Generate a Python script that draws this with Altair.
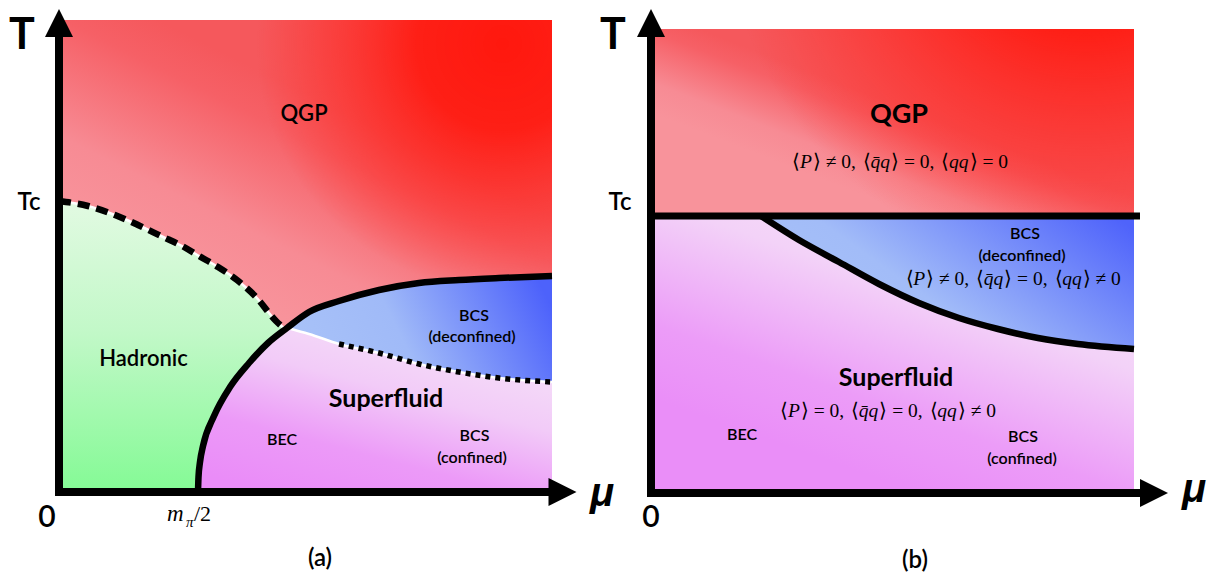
import altair as alt
import pandas as pd

SANS = "Lato"
MU_FONT = "Liberation Sans"
SERIF = "Liberation Serif"
H = 562
A_W, B_W = 600, 601
MID = 600  # medium weight for region labels
PX_PER_UNIT = 100.0

# ---------------- panel (a): phase boundaries in schematic units (mu, T) ----------------
A_MU_MAX, A_T_MAX = 4.93, 4.72
A_DASH_MU = [0.00, 0.29, 0.56, 0.79, 1.02, 1.25, 1.40, 1.59, 1.78, 1.97, 2.17, 2.26]
A_DASH_T = [2.91, 2.86, 2.77, 2.67, 2.56, 2.45, 2.36, 2.25, 2.12, 1.95, 1.71, 1.63]
A_SOLID_MU = [1.39, 1.395, 1.41, 1.44, 1.55, 1.71, 1.90, 2.09, 2.28, 2.50, 2.80, 3.20, 3.60, 4.00, 4.40, 4.93]
A_SOLID_T = [0.00, 0.15, 0.30, 0.46, 0.76, 1.05, 1.29, 1.49, 1.64, 1.80, 1.91, 2.02, 2.09, 2.12, 2.14, 2.16]
A_SEP_MU = [2.28, 2.50, 2.80, 3.20, 3.60, 4.00, 4.40, 4.93]
A_SEP_T = [1.64, 1.58, 1.48, 1.39, 1.28, 1.20, 1.14, 1.10]
A_DOT_START = 2.80

# ---------------- panel (b) ----------------
B_MU_MAX, B_T_MAX = 4.83, 4.64
B_TC = 2.77
B_TC_END = 4.89
B_CURVE_MU = [1.10, 1.48, 1.88, 2.28, 2.68, 3.08, 3.47, 3.87, 4.27, 4.83]
B_CURVE_T = [2.77, 2.53, 2.31, 2.09, 1.90, 1.75, 1.64, 1.55, 1.49, 1.44]

# ---------------- labels ----------------
A_LABELS = ["QGP", "Hadronic", "BEC", "BCS", "(deconfined)", "BCS", "(confined)"]
A_LABEL_MU = [2.45, 0.845, 2.23, 4.15, 4.13, 4.155, 4.13]
A_LABEL_T = [3.78, 1.33, 0.52, 1.76, 1.55, 0.56, 0.34]
A_LABEL_SIZE = [22, 22, 16, 16, 16, 16, 16]
A_BOLD = ["Superfluid"]
A_BOLD_MU = [3.27]
A_BOLD_T = [0.93]
A_BOLD_SIZE = [25]

B_LABELS = ["BEC", "BCS", "(deconfined)", "BCS", "(confined)"]
B_LABEL_MU = [0.91, 3.74, 3.71, 3.72, 3.71]
B_LABEL_T = [0.58, 2.59, 2.37, 0.56, 0.34]
B_LABEL_SIZE = [16, 16, 16, 16, 16]
B_BOLD = ["QGP", "Superfluid"]
B_BOLD_MU = [2.48, 2.45]
B_BOLD_T = [3.78, 1.15]
B_BOLD_SIZE = [27, 25]

# formulas: pieces in roman ("r") or italic ("i") type
B_FORMULA_PARTS = [
    [("⟨", "r"), ("P", "i"), ("⟩ ≠ 0,", "r"), ("⟨", "r"), ("q̄q", "i"), ("⟩ = 0,", "r"),
     ("⟨", "r"), ("qq", "i"), ("⟩ = 0", "r")],
    [("⟨", "r"), ("P", "i"), ("⟩ ≠ 0,", "r"), ("⟨", "r"), ("q̄q", "i"), ("⟩ = 0,", "r"),
     ("⟨", "r"), ("qq", "i"), ("⟩ ≠ 0", "r")],
    [("⟨", "r"), ("P", "i"), ("⟩ = 0,", "r"), ("⟨", "r"), ("q̄q", "i"), ("⟩ = 0,", "r"),
     ("⟨", "r"), ("qq", "i"), ("⟩ ≠ 0", "r")],
]
B_FORMULA_MU = [2.49, 3.62, 2.37]
B_FORMULA_T = [3.31, 2.14, 0.82]
FORMULA_SIZE = 19.5

AX_T_POS = (-0.37, 4.56)
AX_TC_POS = (-0.30, 2.89)
AX_ZERO_POS = (-0.12, -0.26)
AX_MU_POS = (5.31, -0.14)
A_TAG_POS = (2.61, -0.67)
B_TAG_POS = (2.64, -0.68)
B_ZERO_POS = (0.0, -0.25)
B_TC_POS = (-0.31, 2.90)
B_T_POS = (-0.38, 4.57)
B_MU_POS = (5.31, -0.09)

# approximate advance widths (em) of the serif glyphs, used to lay formula pieces side by side
GLYPH_EM = {"⟨": 0.39, "⟩": 0.39, " ": 0.25, "≠": 0.549, "=": 0.564, "0": 0.5,
            ",": 0.25, "P": 0.611, "q": 0.5, "\u0304": 0.0}


def formula_rows(parts, center_mu, t, size):
    rows, x = [], 0.0
    for text, style in parts:
        rows.append({"label": text, "x": x, "style": style})
        w = sum(GLYPH_EM.get(ch, 0.5) for ch in text) * size
        if style == "i":
            w += 0.05 * size
        x += w
        if text.endswith(","):
            x += 0.38 * size
    start = center_mu - x / 2 / PX_PER_UNIT
    for r in rows:
        r["mu"] = start + r["x"] / PX_PER_UNIT
        r["T"] = t
        r["size"] = size
    return rows


def make_scales(mu_dom, t_dom):
    xs = alt.Scale(domain=mu_dom, nice=False, zero=False)
    ys = alt.Scale(domain=t_dom, nice=False, zero=False)

    def X(f):
        return alt.X(f, type="quantitative", scale=xs, axis=None)

    def Y(f):
        return alt.Y(f, type="quantitative", scale=ys, axis=None)

    return X, Y


def grad(x1, y1, x2, y2, stops):
    return alt.LinearGradient(
        gradient="linear", x1=x1, y1=y1, x2=x2, y2=y2,
        stops=[alt.GradientStop(offset=o, color=c) for o, c in stops])


def rgrad(cx, cy, r, stops):
    return alt.RadialGradient(
        gradient="radial", x1=cx, y1=cy, r1=0, x2=cx, y2=cy, r2=r,
        stops=[alt.GradientStop(offset=o, color=c) for o, c in stops])


def area(df, fill, X, Y):
    return alt.Chart(df).mark_area(fill=fill, interpolate="monotone", strokeWidth=0).encode(
        x=X("mu"), y=Y("top"), y2=alt.Y2("bot"))


def curve(df, X, Y, **kw):
    return alt.Chart(df).mark_line(interpolate="monotone", **kw).encode(x=X("mu"), y=Y("T"))


def text_df(df, X, Y, **kw):
    return alt.Chart(df).mark_text(**kw).encode(
        x=X("mu"), y=Y("T"), text="label:N",
        size=alt.Size("size:Q", scale=None, legend=None))


def texts(labels, mus, ts, sizes, X, Y, **kw):
    df = pd.DataFrame({"label": labels, "mu": mus, "T": ts, "size": sizes})
    return text_df(df, X, Y, **kw)


def axes(X, Y, y_top, x_right, arrow_t, arrow_mu):
    v = pd.DataFrame({"mu": [0.0], "T0": [-0.04], "T1": [y_top]})
    h = pd.DataFrame({"m0": [-0.04], "m1": [x_right], "T": [0.0]})
    rv = alt.Chart(v).mark_rule(strokeWidth=8, color="black").encode(
        x=X("mu"), y=Y("T0"), y2=alt.Y2("T1"))
    rh = alt.Chart(h).mark_rule(strokeWidth=8, color="black").encode(
        x=X("m0"), x2=alt.X2("m1"), y=Y("T"))
    up = alt.Chart(pd.DataFrame({"mu": [0.0], "T": [arrow_t]})).mark_point(
        shape="M-1,1L0,-1L1,1Z", size=784, filled=True, color="black", opacity=1,
        strokeWidth=0).encode(x=X("mu"), y=Y("T"))
    rt = alt.Chart(pd.DataFrame({"mu": [arrow_mu], "T": [0.0]})).mark_point(
        shape="M-1,-1L1,0L-1,1Z", size=784, filled=True, color="black", opacity=1,
        strokeWidth=0).encode(x=X("mu"), y=Y("T"))
    return [rv, rh, up, rt]


QGP_BASE = [(0, "#f8939b"), (0.3, "#f78b94"), (0.8, "#f66066"), (1, "#f5585c")]
RED_BLOB = [(0, "rgba(255,24,14,1)"), (0.35, "rgba(255,26,16,0.92)"),
            (0.7, "rgba(255,36,28,0.45)"), (1, "rgba(255,40,30,0)")]

# ---------------- panel (a) ----------------
XA, YA = make_scales([-0.51, 5.49], [-0.82, 4.80])

qgp_a = pd.DataFrame({"mu": [0.0, A_MU_MAX], "top": [A_T_MAX, A_T_MAX], "bot": [0.0, 0.0]})
green_a = pd.DataFrame({"mu": A_DASH_MU, "top": A_DASH_T, "bot": 0.0})
purple_a = pd.DataFrame({"mu": A_SOLID_MU, "top": A_SOLID_T, "bot": 0.0})
solid_grid = [t for m, t in zip(A_SOLID_MU, A_SOLID_T) if m >= A_SEP_MU[0]]
blue_a = pd.DataFrame({"mu": A_SEP_MU, "top": solid_grid, "bot": A_SEP_T})
dash_a = pd.DataFrame({"mu": A_DASH_MU, "T": A_DASH_T})
solid_a = pd.DataFrame({"mu": A_SOLID_MU, "T": A_SOLID_T})
sep_a = pd.DataFrame({"mu": A_SEP_MU, "T": A_SEP_T})
dot_a = sep_a[sep_a["mu"] >= A_DOT_START]

layers_a = [
    area(qgp_a, grad(0.2, 0.5, 0.405, 0.106, QGP_BASE), XA, YA),
    area(qgp_a, rgrad(0.9, 0.07, 0.5, RED_BLOB), XA, YA),
    area(green_a, grad(0, 0, 0, 1, [(0, "#e2fae2"), (0.45, "#c2f8c8"), (1, "#84fa95")]), XA, YA),
    area(purple_a, grad(0.2, 1.0, 0.5, 0.3, [(0, "#ea8cf8"), (0.35, "#ec9af8"),
                                             (0.75, "#f2cbf8"), (1, "#f4d8f8")]), XA, YA),
    area(blue_a, grad(0, 0.5, 1, 0.3, [(0, "#a8c2f8"), (0.4, "#a0baf8"), (1, "#4d62fb")]), XA, YA),
    curve(dash_a, XA, YA, color="white", strokeWidth=2.5),
    curve(sep_a, XA, YA, color="white", strokeWidth=2.5),
    curve(dash_a, XA, YA, color="black", strokeWidth=6.5, strokeDash=[12, 7]),
    curve(solid_a, XA, YA, color="black", strokeWidth=6.5),
    curve(dot_a, XA, YA, color="black", strokeWidth=5.5, strokeDash=[5, 5]),
]
layers_a += axes(XA, YA, 4.55, 4.90, 4.69, 5.035)
layers_a += [
    texts(A_LABELS, A_LABEL_MU, A_LABEL_T, A_LABEL_SIZE, XA, YA,
          font=SANS, fontWeight=MID, color="black", baseline="middle"),
    texts(A_BOLD, A_BOLD_MU, A_BOLD_T, A_BOLD_SIZE, XA, YA,
          font=SANS, fontWeight="bold", color="black", baseline="middle"),
    texts(["T"], [AX_T_POS[0]], [AX_T_POS[1]], [43], XA, YA,
          font=SANS, fontWeight="bold", color="black", baseline="middle"),
    texts(["Tc"], [AX_TC_POS[0]], [AX_TC_POS[1]], [24], XA, YA,
          font=SANS, fontWeight=MID, color="black", baseline="middle"),
    texts(["0", "(a)"], [AX_ZERO_POS[0], A_TAG_POS[0]], [AX_ZERO_POS[1], A_TAG_POS[1]], [30, 24],
          XA, YA, font=SANS, fontWeight=MID, color="black", baseline="middle"),
    texts(["μ"], [AX_MU_POS[0]], [AX_MU_POS[1]], [40], XA, YA,
          font=MU_FONT, fontWeight="bold", fontStyle="italic", color="black",
          align="left", baseline="alphabetic"),
    texts(["m", "π"], [1.08, 1.27], [-0.29, -0.35], [23, 15], XA, YA,
          font=SERIF, fontStyle="italic", color="black", align="left", baseline="alphabetic"),
    texts(["/2"], [1.35], [-0.29], [22], XA, YA,
          font=SERIF, color="black", align="left", baseline="alphabetic"),
]
panel_a = alt.layer(*layers_a).properties(width=A_W, height=H)

# ---------------- panel (b) ----------------
XB, YB = make_scales([-0.43, 5.58], [-0.81, 4.81])

qgp_b = pd.DataFrame({"mu": [0.0, B_MU_MAX], "top": [B_T_MAX, B_T_MAX], "bot": [B_TC, B_TC]})
purple_b = pd.DataFrame({"mu": [0.0] + B_CURVE_MU, "top": [B_TC] + B_CURVE_T, "bot": 0.0})
blue_b = pd.DataFrame({"mu": B_CURVE_MU, "top": B_TC, "bot": B_CURVE_T})
curve_b = pd.DataFrame({"mu": B_CURVE_MU, "T": B_CURVE_T})
tc_b = pd.DataFrame({"mu": [0.0, B_TC_END], "T": [B_TC, B_TC]})

f_rows = []
for parts, m, t in zip(B_FORMULA_PARTS, B_FORMULA_MU, B_FORMULA_T):
    f_rows += formula_rows(parts, m, t, FORMULA_SIZE)
f_df = pd.DataFrame(f_rows)

layers_b = [
    area(qgp_b, grad(0.2, 0.65, 0.475, 0.375, QGP_BASE), XB, YB),
    area(qgp_b, rgrad(0.9, 0.05, 0.75, RED_BLOB), XB, YB),
    area(purple_b, grad(0.15, 0.75, 0.55, 0.1, [(0, "#ea8ef8"), (0.3, "#ec9cf8"),
                                               (0.8, "#f3d2f8"), (1, "#f5daf8")]), XB, YB),
    area(blue_b, grad(0, 0.6, 1, 0.1, [(0, "#a8c2f8"), (0.35, "#a2bcf8"), (1, "#4f63fb")]), XB, YB),
    alt.Chart(tc_b).mark_line(color="black", strokeWidth=7).encode(x=XB("mu"), y=YB("T")),
    curve(curve_b, XB, YB, color="black", strokeWidth=6.5),
]
layers_b += axes(XB, YB, 4.56, 4.90, 4.70, 5.03)
layers_b += [
    texts(B_LABELS, B_LABEL_MU, B_LABEL_T, B_LABEL_SIZE, XB, YB,
          font=SANS, fontWeight=MID, color="black", baseline="middle"),
    texts(B_BOLD, B_BOLD_MU, B_BOLD_T, B_BOLD_SIZE, XB, YB,
          font=SANS, fontWeight="bold", color="black", baseline="middle"),
    text_df(f_df[f_df["style"] == "r"], XB, YB, font=SERIF, color="black",
            align="left", baseline="middle"),
    text_df(f_df[f_df["style"] == "i"], XB, YB, font=SERIF, fontStyle="italic", color="black",
            align="left", baseline="middle"),
    texts(["T"], [B_T_POS[0]], [B_T_POS[1]], [43], XB, YB,
          font=SANS, fontWeight="bold", color="black", baseline="middle"),
    texts(["Tc"], [B_TC_POS[0]], [B_TC_POS[1]], [24], XB, YB,
          font=SANS, fontWeight=MID, color="black", baseline="middle"),
    texts(["0", "(b)"], [B_ZERO_POS[0], B_TAG_POS[0]], [B_ZERO_POS[1], B_TAG_POS[1]], [30, 24],
          XB, YB, font=SANS, fontWeight=MID, color="black", baseline="middle"),
    texts(["μ"], [B_MU_POS[0]], [B_MU_POS[1]], [40], XB, YB,
          font=MU_FONT, fontWeight="bold", fontStyle="italic", color="black",
          align="left", baseline="alphabetic"),
]
panel_b = alt.layer(*layers_b).properties(width=B_W, height=H)

chart = alt.hconcat(panel_a, panel_b, spacing=0, bounds="flush").properties(
    padding=0).configure_view(stroke=None)

chart.save("out.html", embed_options={"renderer": "svg", "actions": False})
